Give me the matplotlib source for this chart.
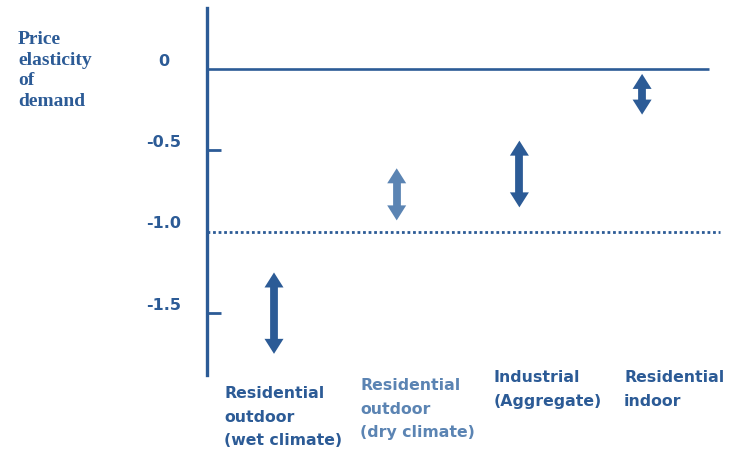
import matplotlib
matplotlib.use('Agg')
from matplotlib import pyplot as plt
from matplotlib.patches import Polygon

categories = ['Residential\noutdoor\n(wet climate)',
              'Residential\noutdoor\n(dry climate)',
              'Industrial\n(Aggregate)',
              'Residential\nindoor']
low = [-1.75, -0.93, -0.85, -0.28]
high = [-1.25, -0.61, -0.44, -0.03]
tick_values = [0, -0.5, -1.0, -1.5]
tick_labels = ['0', '-0.5', '-1.0', '-1.5']

dark = '#2c5b96'
light = '#5b84b3'
colors = [dark, light, dark, dark]

W, H = 734, 449
fig = plt.figure(figsize=(W / 100, H / 100), dpi=100)

# axes from x=207px to right edge, y from 8px to 375px
ax = fig.add_axes([207 / W, (H - 375) / H, (W - 207) / W, 367 / H])
ax.set_ylim(-1.88, 0.375)
ax.set_xlim(-0.546, 3.749)
for s in ['top', 'right', 'bottom']:
    ax.spines[s].set_visible(False)
ax.spines['left'].set_color(dark)
ax.spines['left'].set_linewidth(2.4)
ax.set_xticks([])
ax.set_yticks([-0.5, -1.5])
ax.set_yticklabels([])
ax.tick_params(axis='y', direction='in', length=10, width=2, color=dark)

# zero line and -1 dotted line
ax.plot([-0.546, 3.545], [0, 0], color=dark, lw=1.9, solid_capstyle='butt')
ax.plot([-0.546, 3.635], [-1, -1], color=dark, lw=2, linestyle=(0, (1, 1)))

# px -> data helpers for arrow sizes
px_x = 4.295 / (W - 207)
px_y = 2.255 / 367
head_w = 19 * px_x
head_l = 15 * px_y
shaft_w = 5.6

for i in range(len(categories)):
    c = colors[i]
    ax.plot([i, i], [low[i] + head_l * 0.9, high[i] - head_l * 0.9], color=c,
            lw=shaft_w, solid_capstyle='butt')
    top = Polygon([[i, high[i]], [i - head_w / 2, high[i] - head_l],
                   [i + head_w / 2, high[i] - head_l]], closed=True, color=c, lw=0)
    bot = Polygon([[i, low[i]], [i - head_w / 2, low[i] + head_l],
                   [i + head_w / 2, low[i] + head_l]], closed=True, color=c, lw=0)
    ax.add_patch(top)
    ax.add_patch(bot)

# tick labels, shifted a bit above their ticks
for v, t in zip(tick_values, tick_labels):
    ypx = 69 - v * 162.7 - 8
    fig.text(164 / W, 1 - ypx / H, t, ha='center', va='center',
             fontsize=11.5, fontweight='bold', color=dark, family='DejaVu Sans')

# category labels
label_pos = [(224, 386), (360, 378), (494, 370), (624, 370)]
for i, lab in enumerate(categories):
    x, y = label_pos[i]
    fig.text(x / W, 1 - y / H, lab, ha='left', va='top', fontsize=11.3,
             fontweight='bold', color=colors[i], linespacing=1.72,
             family='DejaVu Sans')

# y label
fig.text(18 / W, 1 - 31 / H, 'Price\nelasticity\nof\ndemand', ha='left', va='top',
         fontsize=14, fontweight='bold', color=dark, family='Liberation Serif',
         linespacing=1.28)

fig.savefig('out.png', dpi=100)
